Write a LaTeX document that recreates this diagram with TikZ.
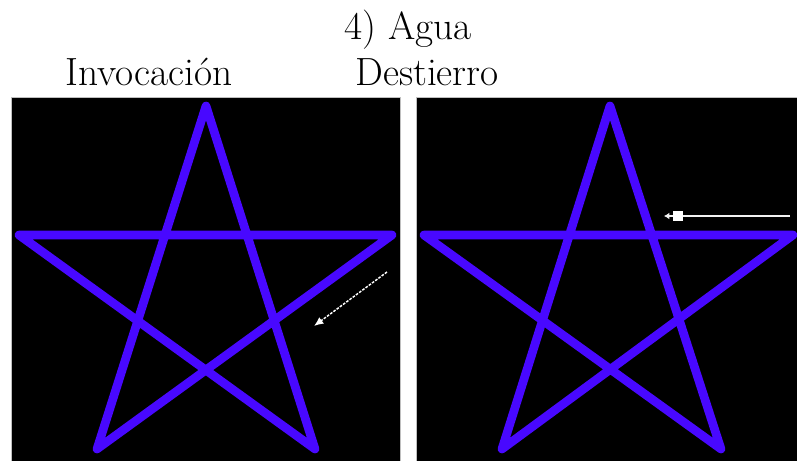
\documentclass[tikz,border=0pt]{standalone}
\usetikzlibrary{arrows.meta}
\definecolor{starblue}{RGB}{72,8,255}
\begin{document}
\begin{tikzpicture}[x=0.75pt,y=-0.75pt,
  panel/.style={fill=black,draw=gray!50,line width=0.6pt},
  starline/.style={draw=starblue,line width=6.5pt,line join=round,line cap=round},
  lbl/.style={font=\fontsize{29.5}{34}\selectfont,inner sep=0pt,anchor=base},
  dotarrow/.style={draw=white,line width=1.1pt,dash pattern=on 2pt off 1pt,-{Latex[length=7pt,width=6pt]}},
  linearrow/.style={draw=white!90!gray,line width=2.2pt,-{Latex[length=4pt,width=5pt]}},
  marker/.style={fill=white,draw=none,minimum size=7.5pt,inner sep=0pt}]
\useasboundingbox[fill=white] (0,0) rectangle (797,461);
% panels
\path[panel] (11,97) rectangle (400,462);
\path[panel] (416,97) rectangle (798,462);
% labels
\node[lbl] (title) at (408,39) {4) Agua};
\node[lbl] (inv) at (149,85) {Invocación};
\node[lbl] (des) at (427,85) {Destierro};
% left star
\coordinate (lt) at (206,106);
\coordinate (ll) at (19,235);
\coordinate (lr) at (392,235);
\coordinate (lbl) at (97,449);
\coordinate (lbr) at (315,449);
\draw[starline] (lt) -- (lbl) -- (lr) -- (ll) -- (lbr) -- cycle;
% right star
\coordinate (rt) at (610,106);
\coordinate (rl) at (424,235);
\coordinate (rr) at (793,235);
\coordinate (rbl) at (502,449);
\coordinate (rbr) at (721,449);
\draw[starline] (rt) -- (rbl) -- (rr) -- (rl) -- (rbr) -- cycle;
% arrows
\coordinate (a1s) at (387,272);
\coordinate (a1e) at (314,326);
\draw[dotarrow] (a1s) -- (a1e);
\coordinate (a2s) at (790,216);
\coordinate (a2e) at (664,216);
\draw[linearrow] (a2s) -- (a2e);
\node[marker] (sq) at (678,216) {};
\end{tikzpicture}
\end{document}
